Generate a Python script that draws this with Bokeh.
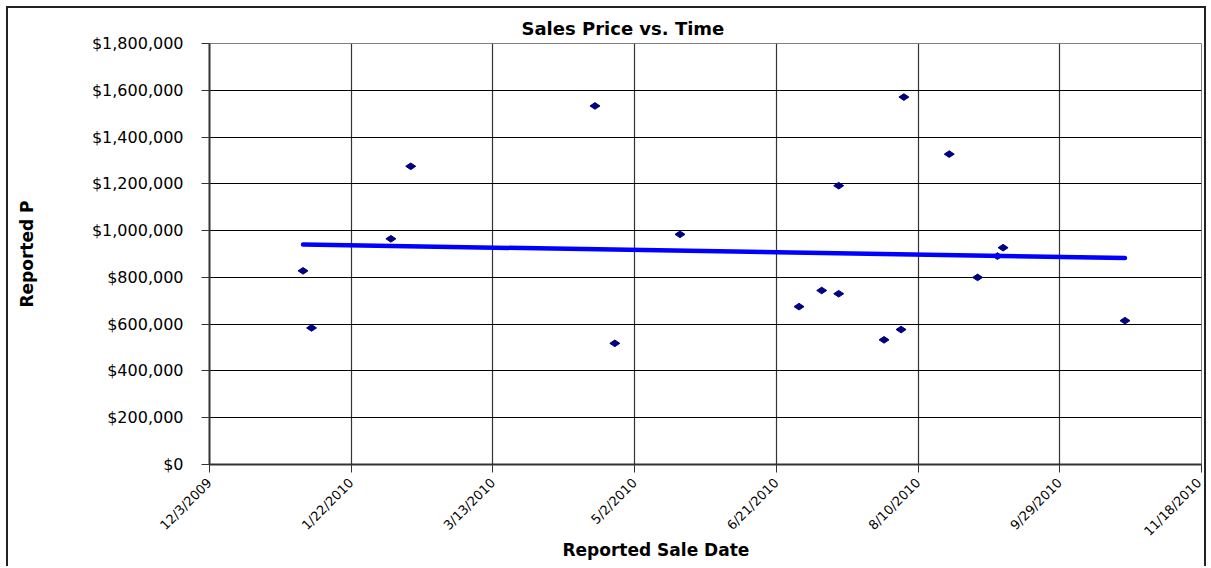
import numpy as np
import pandas as pd
from math import pi
from bokeh.plotting import figure
from bokeh.models import Range1d, FixedTicker, NumeralTickFormatter, Title, ColumnDataSource
from bokeh.embed import file_html
from bokeh.resources import INLINE

# ---------------- data ----------------
sale_dates = ["2010-01-05", "2010-01-08", "2010-02-05", "2010-02-12", "2010-04-18",
              "2010-04-25", "2010-05-18", "2010-06-29", "2010-07-07", "2010-07-13",
              "2010-07-13", "2010-07-29", "2010-08-04", "2010-08-05", "2010-08-21",
              "2010-08-31", "2010-09-07", "2010-09-09", "2010-10-22"]
sale_prices = [828000, 584000, 965000, 1275000, 1533000,
               518000, 984000, 675000, 744000, 730000,
               1192000, 533000, 577000, 1571000, 1327000,
               800000, 891000, 927000, 615000]
x_tick_labels = ["12/3/2009", "1/22/2010", "3/13/2010", "5/2/2010",
                 "6/21/2010", "8/10/2010", "9/29/2010", "11/18/2010"]
y_ticks = [0, 200000, 400000, 600000, 800000, 1000000, 1200000, 1400000, 1600000, 1800000]
title_text = "Sales Price vs. Time"
x_title = "Reported Sale Date"
y_title = "Reported P"

# ---------------- derived ----------------
origin = pd.Timestamp("2009-12-03")
tick_days = [int((pd.to_datetime(t, format="%m/%d/%Y") - origin).days) for t in x_tick_labels]
days = np.array([(pd.Timestamp(d) - origin).days for d in sale_dates], dtype=float)
prices = np.array(sale_prices, dtype=float)
slope, intercept = np.polyfit(days, prices, 1)
trend_x = [days.min(), days.max()]
trend_y = [slope * x + intercept for x in trend_x]

X0, X1 = tick_days[0], tick_days[-1]
Y0, Y1 = y_ticks[0], y_ticks[-1]

src = ColumnDataSource(dict(day=days, price=prices))

p = figure(width=1200, height=560,
           x_range=Range1d(X0, X1), y_range=Range1d(Y0, Y1),
           output_backend="svg", toolbar_location=None,
           min_border_left=201, min_border_right=7,
           min_border_top=35, min_border_bottom=104,
           background_fill_color="white", border_fill_color="white",
           outline_line_color="#808080", outline_line_width=1)
p.styles = {"margin-left": "6px", "margin-top": "6px",
            "border-left": "2px solid #222", "border-top": "2px solid #222",
            "border-right": "2px solid #222"}

FONT = "DejaVu Sans"

# title
p.title.text = title_text
p.title.align = "left"
p.title.offset = 312
p.title.text_font = FONT
p.title.text_font_size = "18px"
p.title.text_font_style = "bold"
p.title.text_color = "black"
p.title.standoff = 10

# x axis
p.xaxis.ticker = FixedTicker(ticks=tick_days)
p.xaxis.major_label_overrides = {d: lab for d, lab in zip(tick_days, x_tick_labels)}
p.xaxis.major_label_orientation = pi / 4
p.xaxis.major_tick_out = 8
p.xaxis.major_tick_in = 0
p.xaxis.minor_tick_line_color = None
p.xaxis.axis_line_color = "#333333"
p.xaxis.axis_line_width = 2
p.xaxis.major_tick_line_color = "#333333"
p.xaxis.major_label_text_font = FONT
p.xaxis.major_label_text_font_size = "13px"
p.xaxis.major_label_text_color = "black"
p.xaxis.major_label_standoff = 8

# x axis title as a title panel below the axis
xt = Title(text=x_title, align="left", offset=353, text_font=FONT,
           text_font_size="17px", text_font_style="bold", text_color="black",
           vertical_align="top", standoff=-16)
p.add_layout(xt, "below")

# y axis
p.yaxis.ticker = FixedTicker(ticks=y_ticks)
p.yaxis.formatter = NumeralTickFormatter(format="$0,0")
p.yaxis.major_tick_out = 8
p.yaxis.major_tick_in = 0
p.yaxis.minor_tick_line_color = None
p.yaxis.axis_line_color = "#333333"
p.yaxis.axis_line_width = 2
p.yaxis.major_tick_line_color = "#333333"
p.yaxis.major_label_text_font = FONT
p.yaxis.major_label_text_font_size = "16px"
p.yaxis.major_label_text_color = "black"
p.yaxis.major_label_standoff = 18
p.yaxis.axis_label = y_title
p.yaxis.axis_label_text_font = FONT
p.yaxis.axis_label_text_font_size = "17px"
p.yaxis.axis_label_text_font_style = "bold"
p.yaxis.axis_label_text_color = "black"
p.yaxis.axis_label_standoff = 52

# grid
p.xgrid.ticker = FixedTicker(ticks=tick_days)
p.ygrid.ticker = FixedTicker(ticks=y_ticks)
p.xgrid.grid_line_color = "#333333"
p.xgrid.grid_line_width = 1.2
p.ygrid.grid_line_color = "black"
p.ygrid.grid_line_width = 1

# marks
p.scatter(x="day", y="price", source=src, marker="diamond", size=10, angle=pi / 2,
          fill_color="#000080", line_color="#000080", line_width=1)
p.line(trend_x, trend_y, line_color="#0000FF", line_width=4.5, line_cap="round")

open("out.html", "w").write(file_html(p, INLINE))
